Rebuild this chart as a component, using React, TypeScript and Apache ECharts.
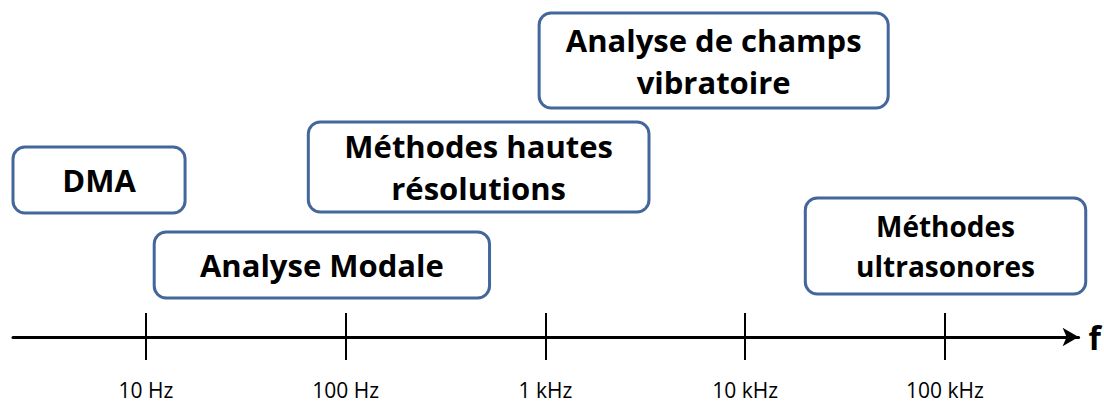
import React, { useEffect, useRef } from "react";
import * as echarts from "echarts";

// Frequency ranges (Hz) covered by each method box
const methods = [
  "DMA",
  "Analyse Modale",
  "Méthodes hautes\nrésolutions",
  "Analyse de champs\nvibratoire",
  "Méthodes\nultrasonores",
];
const freqStart = [2.16, 11, 65, 930, 20000];
const freqEnd = [15.7, 525, 3300, 52000, 507000];
// vertical extents of each box (y axis units, top -> bottom)
const rowTop = [147, 232, 122, 13, 198];
const rowBottom = [213, 298, 212, 108, 294];

const tickValues = [10, 100, 1000, 10000, 100000];
const tickLabels = ["10 Hz", "100 Hz", "1 kHz", "10 kHz", "100 kHz"];

const FONT = "'Open Sans', Lato, sans-serif";

export default function App() {
  const ref = useRef<HTMLDivElement>(null);
  useEffect(() => {
    document.body.style.margin = "0";
    const chart = echarts.init(ref.current!, null, { renderer: "svg" });
    const data = methods.map((m, i) => ({
      name: m,
      value: [freqStart[i], freqEnd[i], rowTop[i], rowBottom[i]],
    }));
    const xMin = 2.16;
    const xMax = 467000;
    chart.setOption({
      animation: false,
      grid: { left: 13, right: 24, top: 0, bottom: 67 },
      xAxis: [
        {
          type: "log",
          logBase: 10,
          min: xMin,
          max: xMax,
          position: "bottom",
          axisLine: {
            onZero: false,
            lineStyle: { color: "#000", width: 3 },
            symbol: ["none", "arrow"],
            symbolSize: [14, 16],
          },
          axisTick: { show: false },
          splitLine: { show: false },
          minorTick: { show: false },
          axisLabel: {
            customValues: tickValues,
            margin: 42,
            fontSize: 21,
            lineHeight: 21,
            fontFamily: FONT,
            color: "#000",
            formatter: (v: number) => {
              const i = tickValues.findIndex((t) => Math.abs(t - v) / t < 1e-6);
              return i >= 0 ? tickLabels[i] : "";
            },
          },
          name: "f",
          nameLocation: "end",
          nameGap: 10,
          nameTextStyle: {
            fontSize: 32,
            fontWeight: "bold",
            fontFamily: FONT,
            color: "#000",
          },
        },
        {
          type: "log",
          logBase: 10,
          min: xMin,
          max: xMax,
          position: "bottom",
          offset: -24,
          axisLine: { show: false, onZero: false },
          axisTick: {
            show: true,
            customValues: tickValues,
            length: 47,
            inside: false,
            lineStyle: { color: "#000", width: 2 },
          },
          axisLabel: { show: false },
          splitLine: { show: false },
        },
      ],
      yAxis: {
        type: "value",
        min: 0,
        max: 337,
        inverse: true,
        show: false,
        splitLine: { show: false },
      },
      series: [
        {
          type: "custom",
          xAxisIndex: 0,
          yAxisIndex: 0,
          encode: { x: [0, 1], y: [2, 3] },
          data,
          renderItem: (params: any, api: any) => {
            const p0 = api.coord([api.value(0), api.value(2)]);
            const p1 = api.coord([api.value(1), api.value(3)]);
            const name = methods[params.dataIndex];
            const small = params.dataIndex === 4;
            return {
              type: "group",
              children: [
                {
                  type: "rect",
                  shape: {
                    x: p0[0],
                    y: p0[1],
                    width: p1[0] - p0[0],
                    height: p1[1] - p0[1],
                    r: 12,
                  },
                  style: { fill: "#fff", stroke: "#44679b", lineWidth: 3 },
                },
                {
                  type: "text",
                  x: (p0[0] + p1[0]) / 2,
                  y: (p0[1] + p1[1]) / 2,
                  style: {
                    text: name,
                    fontSize: small ? 28 : 31,
                    fontWeight: "bold",
                    fontFamily: FONT,
                    fill: "#000",
                    align: "center",
                    verticalAlign: "middle",
                    lineHeight: small ? 40 : 42,
                  },
                },
              ],
            };
          },
        },
      ],
    });
    return () => chart.dispose();
  }, []);
  return <div ref={ref} style={{ width: 1104, height: 404 }} />;
}
